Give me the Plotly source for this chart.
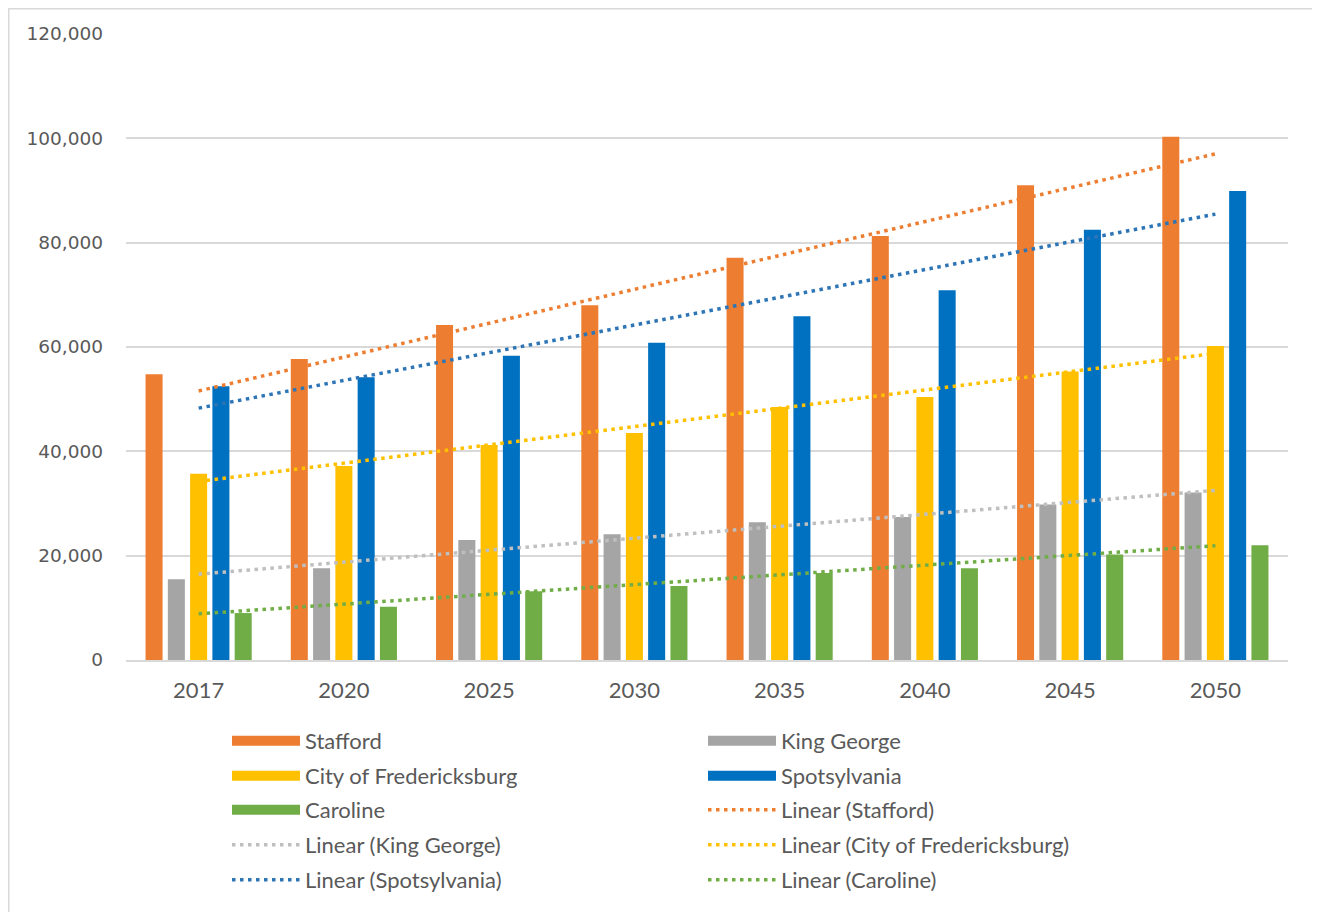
import numpy as np
import plotly.graph_objects as go

years = ["2017", "2020", "2025", "2030", "2035", "2040", "2045", "2050"]
stafford = [54800, 57700, 64200, 68000, 77100, 81300, 91000, 100300]
king_george = [15500, 17600, 23000, 24100, 26400, 27400, 29800, 32100]
fredericksburg = [35700, 37200, 41200, 43500, 48500, 50400, 55300, 60200]
spotsylvania = [52500, 54200, 58300, 60800, 65900, 70900, 82500, 89900]
caroline = [9000, 10200, 13200, 14200, 16700, 17600, 20200, 22000]

series_names = ["Stafford", "King George", "City of Fredericksburg", "Spotsylvania", "Caroline"]
series_values = [stafford, king_george, fredericksburg, spotsylvania, caroline]
bar_colors = ["#ED7D31", "#A5A5A5", "#FFC000", "#0070C0", "#70AD47"]
trend_colors = ["#ED7D31", "#BFBFBF", "#FFC000", "#2E75B6", "#70AD47"]

y_ticks = [0, 20000, 40000, 60000, 80000, 100000, 120000]

TEXT = "#595959"
GRID = "#D9D9D9"
FONT_FAMILY = "Lato, Noto Sans, sans-serif"
LEG_FONT = dict(family=FONT_FAMILY, size=22, color=TEXT)

# plot area geometry (figure pixels)
W, H = 1320, 912
ML, MR, MT, MB = 118, 40, 26, 260
PW, PH = W - ML - MR, H - MT - MB
plot_bottom = H - MB

# legend rows (5 rows x 2 columns, filled row by row as in the reference)
legend_ids = ["legend", "legend2", "legend3", "legend4", "legend5"]
row_centers = [733, 768, 802, 837, 872]

fig = go.Figure()

# bars
for name, vals, col in zip(series_names, series_values, bar_colors):
    fig.add_trace(go.Bar(x=years, y=vals, name=name, marker=dict(color=col, line=dict(width=0)),
                         showlegend=False))

entries = []  # (name, color, kind)
for name, col in zip(series_names, bar_colors):
    entries.append((name, col, "bar"))
for name, col in zip(series_names, trend_colors):
    entries.append((f"Linear ({name})", col, "trend"))

# legend entries for bars (wide rectangles like Excel)
k = 0
for name, col in zip(series_names, bar_colors):
    fig.add_trace(go.Scatter(x=[None], y=[None], mode="lines", name=name,
                             line=dict(color=col, width=14), legend=legend_ids[k // 2]))
    k += 1

# linear trendlines (least squares on category index, like Excel)
idx = np.arange(1, len(years) + 1)
for name, vals, col in zip(series_names, series_values, trend_colors):
    slope, intercept = np.polyfit(idx, np.array(vals, dtype=float), 1)
    fit = slope * idx + intercept
    fig.add_trace(go.Scatter(x=years, y=fit, mode="lines", name=f"Linear ({name})",
                             line=dict(color=col, width=3.5, dash="3.5px,4.5px"),
                             legend=legend_ids[k // 2]))
    k += 1

# chart-area border
fig.add_shape(type="rect", xref="paper", yref="paper",
              x0=(0.75 - ML) / PW, x1=(1309 - ML) / PW,
              y0=(plot_bottom - 930) / PH, y1=(plot_bottom - 0.75) / PH,
              line=dict(color=GRID, width=1.5), fillcolor="rgba(0,0,0,0)", layer="below")

legend_layout = {}
for lid, yc in zip(legend_ids, row_centers):
    legend_layout[lid] = dict(orientation="h", x=(219 - ML) / PW, xanchor="left",
                              y=(plot_bottom - yc) / PH, yanchor="middle",
                              entrywidth=393, entrywidthmode="pixels", itemwidth=68,
                              font=LEG_FONT, bgcolor="rgba(0,0,0,0)", traceorder="normal",
                              itemclick=False, itemdoubleclick=False)

fig.update_layout(
    width=W, height=H,
    margin=dict(l=ML, r=MR, t=MT, b=MB),
    paper_bgcolor="white", plot_bgcolor="white",
    barmode="group", bargap=0.233, bargroupgap=0.236,
    xaxis=dict(type="category", showgrid=False, showline=True, linecolor=GRID, linewidth=2,
               ticks="", tickfont=dict(family=FONT_FAMILY, size=22, color=TEXT),
               ticklabelstandoff=10, zeroline=False),
    yaxis=dict(range=[0, 120000], tickvals=y_ticks, tickformat=",", showgrid=True,
               gridcolor=GRID, gridwidth=1.5, showline=False, zeroline=False, ticks="",
               tickfont=dict(family="DejaVu Sans, sans-serif", size=18.5, color=TEXT),
               ticklabelstandoff=22),
    **legend_layout,
)

fig.write_html("out.html")
